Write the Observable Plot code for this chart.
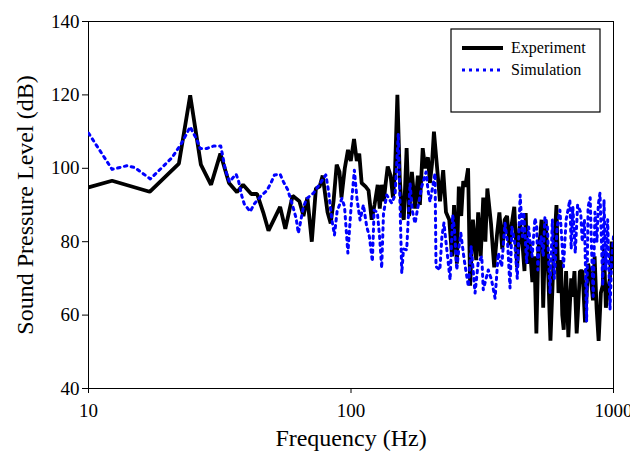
<!DOCTYPE html>
<html>
<head>
<meta charset="utf-8">
<script src="https://cdn.jsdelivr.net/npm/d3@7"></script>
<script src="https://cdn.jsdelivr.net/npm/@observablehq/plot@0.6"></script>
<style>
  html, body { margin: 0; padding: 0; background: #fff; }
  #chart svg { display: block; }
</style>
</head>
<body>
<div id="chart"></div>
<script>
// Experiment series (frequency Hz, SPL dB)
const expFreq = [10,12.3,17.1,22.1,24.4,26.8,29.3,31.8,34.3,36.8,38.8,41.7,43.9,46.3,48.5,53.7,56.2,59.9,63.6,65.9,68.2,70.9,73.5,75.9,78,81.4,83.7,85.8,88.2,90.4,92,94.7,97.4,99.8,102.7,105.2,107.5,109.8,113.7,116.6,119.9,122.9,126.4,128.7,130.9,133.3,135.6,138,141.5,144.5,147.1,150.2,153.5,156.2,158.9,162.9,166.4,170.6,175.4,179.8,183,187.6,191.6,196.4,199.8,203.4,207,212.9,218.3,224.5,230.1,236.7,242.6,246.9,253.1,257.5,263,267.7,272.4,279.3,284.3,291.4,299.8,305.1,312,319,325,330.7,341.4,351.2,360,367.6,376.9,385,393.1,401.5,410,418.8,429.3,440,449.4,458,463,468.8,478.8,490.8,500,508.4,517,526.6,532,539.7,551.3,565,575.2,591.6,606.4,617.2,630.4,638,646.1,659.8,673,681.1,690,698.1,710,724,730.8,745,762.4,779,789.7,800,818,835,847.3,862,877.8,895,909.4,920,935.2,950,968.8,984,1000];
const expDb = [94.8,96.6,93.6,101.3,119.9,101,95.5,104,96,93.5,95.5,93,93,88,83,89.5,83.5,92.5,91,87,92,80,94.5,95,98,88,85,91,101,99,92,100,105,102,108,102,104,96,95,94,86,90,95.5,89,95.5,91,96,100.5,98,92,99,120,97,88,86,105.5,87,99,89,98,90,105.5,100,103,96,101,110,100,91,99.5,88,86,76,90,74,95,87,96.5,95,100,68,86,75,88,76,92,80,94.5,85,73,82,88,78,86,87,79,85,89.5,73,85,80,72,87.8,74,80,69,76,55,78,82,86,62,86,70,53,76,90,66,75,60,56,72,54,62,70,65,72,55,60,72,72,58,65,74,71,64,76,62,53,66,68,78,62,66,70,80,73];

// Simulation series (frequency Hz, SPL dB)
const simFreq = [10,12.3,14,15,17.2,20.8,22.7,24.4,25.9,26.6,28.2,30.1,31.9,33.2,34.4,36.5,37.3,38.4,39.2,41.3,42.8,45.7,47.8,49.6,51.1,53.7,55.3,57.3,59.5,61.8,63,65.9,67.9,71.9,76.3,80.2,82,84.6,86.5,88.5,92.3,94.5,97.3,100,103,105.5,108.3,111.5,114.8,117.5,120.6,122.5,126,128.5,130.9,133,136.8,142.9,147.2,151.5,154,156.1,158.5,163,167.9,171,175.4,179,186,193.2,196.5,200,209,210.8,218,222,226,238.5,244,248,252.9,258,262,270,280,287,296.9,305,314.9,319,333.5,343,353.9,364,375,386,395,403.5,410,420,430,441,450,455,467,475,480,490,502,510,515,520,530,540,548,560,573,585,595,610,625,645,660,682,690,700,715,730,750,760,775,790,800,815,825,837,850,865,875,888,900,910,920,935,950,970,985,1000];
const simDb = [109.6,99.7,100.7,100.2,97.1,102.9,107,111.3,107.7,105.4,105.4,106.1,106.1,99.7,96.3,98.4,96.5,92.4,90.3,88.2,90.3,92.7,93.9,96.1,98.2,98.4,96.3,94.3,90.6,86.4,82.3,89.5,91.8,93.2,95.9,98.2,94.1,85.9,81.8,88.2,91.8,89.5,76.9,89.1,99.5,91.4,85.9,90,84.1,81.4,74.6,88.6,88,81.4,72.8,87.7,92.7,90.5,92.7,109.5,88,71.4,78,77.8,95.9,88.6,85,88.6,95,99,94.1,90.9,98.6,73.2,72.3,81.4,85.1,69.6,87.3,83,72.3,78.7,82.3,75,67.8,78.7,66,74.2,76,66.9,72.3,69.6,64.6,76.9,73.2,85,79.6,67.4,84,80,70,92.7,81.4,88,74.2,84,80.5,76,86.4,84,72.3,78,81.4,76,86.8,84,66,86,70,84,88.6,73.2,86,91.4,78,89.5,76.9,90,88,80,86,58.3,89.5,92,78,65.1,88,80,90,93.2,80,68,91.4,72.3,86,61.5,76,81.4];

const tickValuesX = [10, 100, 1000];
const tickValuesY = [40, 60, 80, 100, 120, 140];
const seriesNames = ["Experiment", "Simulation"];

const expData = expFreq.map((f, i) => ({f, db: expDb[i]}));
const simData = simFreq.map((f, i) => ({f, db: simDb[i]}));

const font = "Liberation Serif, serif";

const chart = Plot.plot({
  width: 630,
  height: 453,
  marginLeft: 88,
  marginRight: 17,
  marginTop: 21,
  marginBottom: 65,
  style: {fontFamily: font, fontSize: "19px", color: "#000", background: "#fff", overflow: "visible"},
  x: {type: "log", domain: [10, 1000]},
  y: {domain: [40, 140]},
  marks: [
    Plot.frame({stroke: "#000", strokeWidth: 1}),
    Plot.axisX({ticks: tickValuesX, tickFormat: d => String(d), tickSize: 5, tickPadding: 10, label: null, fontSize: 19}),
    Plot.axisY({ticks: tickValuesY, tickSize: 6, tickPadding: 3, label: null, fontSize: 19}),
    Plot.line(expData, {x: "f", y: "db", stroke: "#000", strokeWidth: 3.8, strokeLinejoin: "miter", clip: true}),
    Plot.line(simData, {x: "f", y: "db", stroke: "#0000ff", strokeWidth: 3, strokeDasharray: "2.5,4.5", clip: true}),
    Plot.text(["Frequency (Hz)"], {frameAnchor: "bottom", dy: 57, fontSize: 24, fill: "#000"}),
    Plot.text(["Sound Pressure Level (dB)"], {frameAnchor: "left", textAnchor: "middle", dx: -63, rotate: -90, fontSize: 24, fill: "#000"})
  ]
});

// Legend box
const svg = d3.select(chart);
const lg = svg.append("g").attr("font-size", 16).attr("text-anchor", "start");
lg.append("rect").attr("x", 451).attr("y", 29).attr("width", 149).attr("height", 83)
  .attr("fill", "#fff").attr("stroke", "#000").attr("stroke-width", 1.2);
const styles = [
  {stroke: "#000", width: 3.8, dash: null},
  {stroke: "#0000ff", width: 3, dash: "3,4"}
];
seriesNames.forEach((name, i) => {
  const y = 48 + i * 22;
  const l = lg.append("line").attr("x1", 462).attr("x2", 503).attr("y1", y).attr("y2", y)
    .attr("stroke", styles[i].stroke).attr("stroke-width", styles[i].width);
  if (styles[i].dash) l.attr("stroke-dasharray", styles[i].dash);
  lg.append("text").attr("x", 511).attr("y", y).attr("dy", "0.32em").attr("fill", "#000").text(name);
});

// serif face on every text element
svg.attr("font-family", font);
svg.selectAll("text").attr("font-family", font).style("font-family", font);

document.getElementById("chart").appendChild(chart);
</script>
</body>
</html>
